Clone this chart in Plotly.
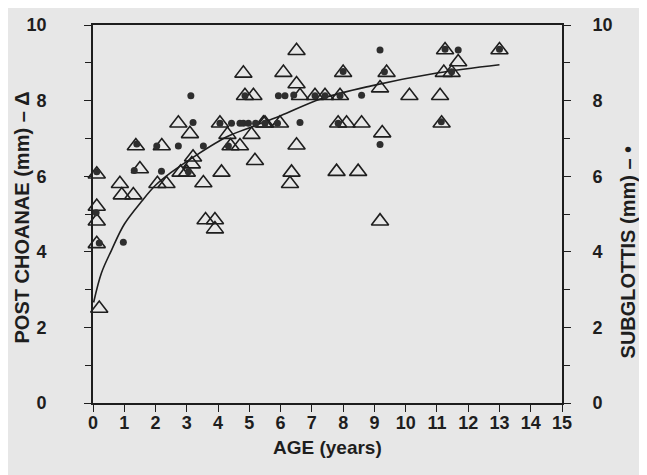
import plotly.graph_objects as go

# Post choanae (open triangles, left axis)
tri_age = [0.12, 0.12, 0.12, 0.12, 0.2, 0.86, 0.92, 1.29, 1.37, 1.5,
           2.06, 2.2, 2.35, 2.73, 2.8, 3.0, 3.1, 3.16, 3.2, 3.53,
           3.6, 3.9, 3.9, 4.06, 4.11, 4.3, 4.4, 4.7, 4.81, 4.86,
           5.13, 5.07, 5.18, 5.45, 5.5, 5.98, 6.09, 6.51, 6.51, 6.62,
           6.51, 6.35, 6.3, 7.1, 7.42, 7.9, 8.0, 7.84, 8.11, 8.59,
           7.79, 8.48, 9.18, 9.39, 9.25, 9.18, 10.12, 11.1, 11.26, 11.68,
           11.22, 11.47, 11.15, 13.0]
tri_mm = [6.05, 5.2, 4.81, 4.21, 2.5, 5.8, 5.5, 5.5, 6.8, 6.19,
          5.8, 6.8, 5.8, 7.4, 6.1, 6.1, 7.12, 6.32, 6.5, 5.82,
          4.84, 4.84, 4.6, 7.4, 6.1, 7.1, 6.8, 6.8, 8.72, 8.13,
          8.13, 7.1, 6.41, 7.4, 7.4, 7.4, 8.74, 9.32, 8.44, 8.13,
          6.82, 6.1, 5.8, 8.13, 8.13, 8.13, 8.74, 7.4, 7.4, 7.4,
          6.12, 6.12, 8.33, 8.74, 7.14, 4.81, 8.13, 8.13, 9.34, 9.02,
          8.74, 8.74, 7.4, 9.34]

# Subglottis (filled dots, right axis)
dot_age = [0.12, 0.1, 0.2, 0.97, 1.32, 1.4, 2.04, 2.19, 2.73, 3.05,
           3.13, 3.2, 3.53, 4.06, 4.33, 4.43, 4.7, 4.81, 4.97, 5.2,
           4.86, 5.5, 5.9, 5.93, 6.14, 6.42, 6.62, 7.1, 7.42, 7.9,
           8.0, 7.84, 8.59, 9.18, 9.18, 9.32, 11.14, 11.26, 11.68, 11.47,
           13.0]
dot_mm = [6.12, 5.03, 4.23, 4.25, 6.15, 6.85, 6.8, 6.13, 6.8, 6.12,
          8.13, 7.42, 6.8, 7.4, 6.8, 7.4, 7.4, 7.4, 7.4, 7.4,
          8.13, 7.4, 7.4, 8.13, 8.13, 8.15, 7.42, 8.13, 8.13, 8.13,
          8.77, 7.4, 8.14, 9.34, 6.84, 8.76, 7.44, 9.36, 9.34, 8.76,
          9.36]

# Fitted curve
fit_age = [0.02, 0.27, 0.59, 1.0, 1.55, 2.0, 2.5, 3.2, 4.3, 5.1, 6.0, 7.3, 8.9, 11.0, 13.0]
fit_mm = [2.66, 3.44, 4.04, 4.73, 5.33, 5.76, 6.1, 6.5, 7.05, 7.31, 7.6, 8.05, 8.39, 8.73, 8.95]

x_ticks = list(range(0, 16))
y_ticks = [0, 2, 4, 6, 8, 10]

FONT = "Liberation Sans Narrow, Arial Narrow, Liberation Sans, Arial, sans-serif"
TFONT = "Liberation Sans, Arial, sans-serif"
INK = "#1e1e1e"
BG = "#e7e7e7"

fig = go.Figure()
fig.add_trace(go.Scatter(
    x=fit_age, y=fit_mm, mode="lines", line=dict(color=INK, width=1.6, shape="spline"),
    hoverinfo="skip", showlegend=False))
fig.add_trace(go.Scatter(
    x=tri_age, y=tri_mm, mode="markers",
    marker=dict(symbol="triangle-up-open", size=15, color=INK, line=dict(width=1.6, color=INK)),
    showlegend=False, cliponaxis=False))
fig.add_trace(go.Scatter(
    x=dot_age, y=dot_mm, mode="markers", yaxis="y2",
    marker=dict(symbol="circle", size=7, color="#2e2e2e"),
    showlegend=False, cliponaxis=False))

axis_common = dict(showgrid=False, zeroline=False, showline=True, linecolor=INK, linewidth=1.6,
                   ticks="outside", tickcolor=INK, tickwidth=1.4, ticklen=7,
                   ticklabeloverflow="allow",
                   tickfont=dict(family=FONT, size=18, color=INK, weight="bold"))

fig.update_layout(
    width=639, height=467,
    margin=dict(l=85, r=85, t=7, b=72),
    paper_bgcolor=BG, plot_bgcolor=BG,
    xaxis=dict(range=[0, 15], tickvals=x_ticks, mirror=True, ticklabelstandoff=-4, **axis_common),
    yaxis=dict(range=[0, 10], tickvals=y_ticks, ticklabelstandoff=34,
               minor=dict(ticks="outside", tickvals=[1, 3, 5, 7, 9], ticklen=6, tickcolor=INK, tickwidth=1.4),
               **axis_common),
    yaxis2=dict(range=[0, 10], tickvals=y_ticks, overlaying="y", side="right", ticklabelstandoff=18,
                minor=dict(ticks="outside", tickvals=[1, 3, 5, 7, 9], ticklen=6, tickcolor=INK, tickwidth=1.4),
                **axis_common),
    annotations=[
        dict(text="<b>AGE (years)</b>", xref="paper", yref="paper", x=0.5, y=-0.118,
             xanchor="center", yanchor="middle", showarrow=False,
             font=dict(family=TFONT, size=19, color=INK)),
        dict(text="<b>POST CHOANAE (mm) – Δ</b>", xref="paper", yref="paper", x=-0.152, y=0.49,
             textangle=-90, xanchor="center", yanchor="middle", showarrow=False,
             font=dict(family=TFONT, size=20, color=INK)),
        dict(text="<b>SUBGLOTTIS (mm) – •</b>", xref="paper", yref="paper", x=1.14, y=0.4,
             textangle=-90, xanchor="center", yanchor="middle", showarrow=False,
             font=dict(family=TFONT, size=20, color=INK)),
    ],
)

fig.write_html("out.html")
